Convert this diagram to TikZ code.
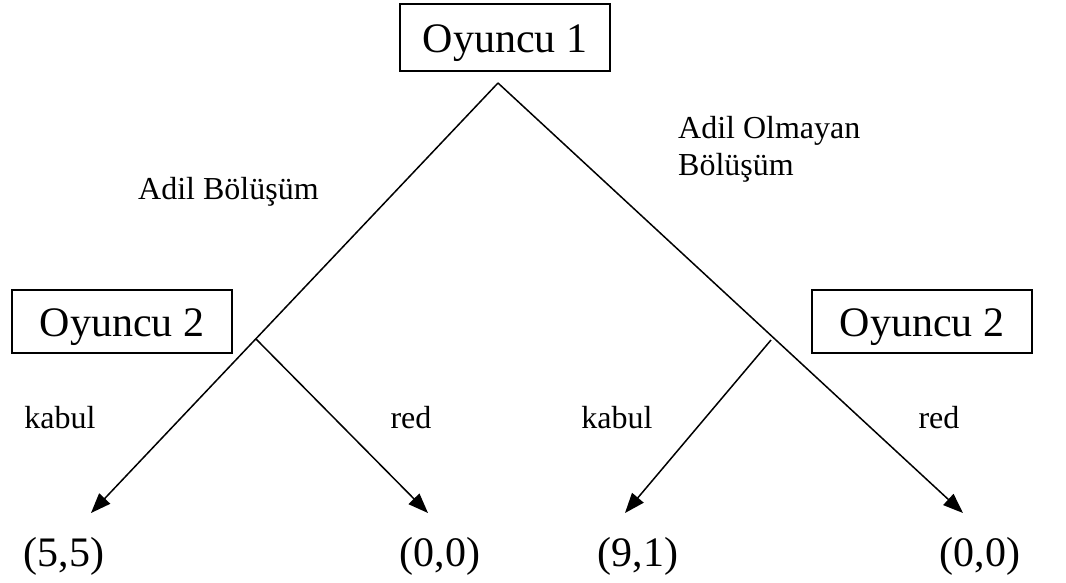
\documentclass[tikz,border=0pt]{standalone}
\usepackage{fontspec}
\setmainfont{Liberation Serif}
\usetikzlibrary{arrows.meta}
\begin{document}
\begin{tikzpicture}[x=1pt,y=-1pt,
  player/.style={draw,line width=1.5pt,minimum width=220pt,minimum height=63pt,inner sep=0pt,text height=31pt,text depth=2pt,font=\fontsize{42}{48}\selectfont},
  payoff/.style={font=\fontsize{42}{48}\selectfont,inner sep=0pt},
  lbl/.style={font=\fontsize{32}{37}\selectfont,inner sep=0pt,align=left},
  arr/.style={line width=1.5pt,-{Triangle[length=20pt,width=15pt]}}]
\useasboundingbox (0,0) rectangle (1066,582);
\node[player,minimum height=67pt,minimum width=210pt] (p1) at (505,37.5) {Oyuncu 1};
\node[player] (p2l) at (122,321.5) {Oyuncu 2};
\node[player] (p2r) at (922,321.5) {Oyuncu 2};
\coordinate (apex) at (498,83);
\coordinate (bl) at (256,339);
\coordinate (br) at (771,340);
\coordinate (t1) at (91,513);
\coordinate (t2) at (428,513);
\coordinate (t3) at (625,513);
\coordinate (t4) at (963,513);
\draw[arr] (apex) -- (t1);
\draw[arr] (apex) -- (t4);
\draw[arr] (bl) -- (t2);
\draw[arr] (br) -- (t3);
\node[lbl,anchor=base west] (a1) at (138,199) {Adil Bölüşüm};
\node[lbl,anchor=base west] (a2) at (678,175) {Adil Olmayan\\Bölüşüm};
\node[lbl] (k1) at (60,418) {kabul};
\node[lbl] (r1) at (411,418) {red};
\node[lbl] (k2) at (617,418) {kabul};
\node[lbl] (r2) at (939,418) {red};
\node[payoff] (o1) at (64,556) {(5,5)};
\node[payoff] (o2) at (440,556) {(0,0)};
\node[payoff] (o3) at (638,556) {(9,1)};
\node[payoff] (o4) at (980,556) {(0,0)};
\end{tikzpicture}
\end{document}
